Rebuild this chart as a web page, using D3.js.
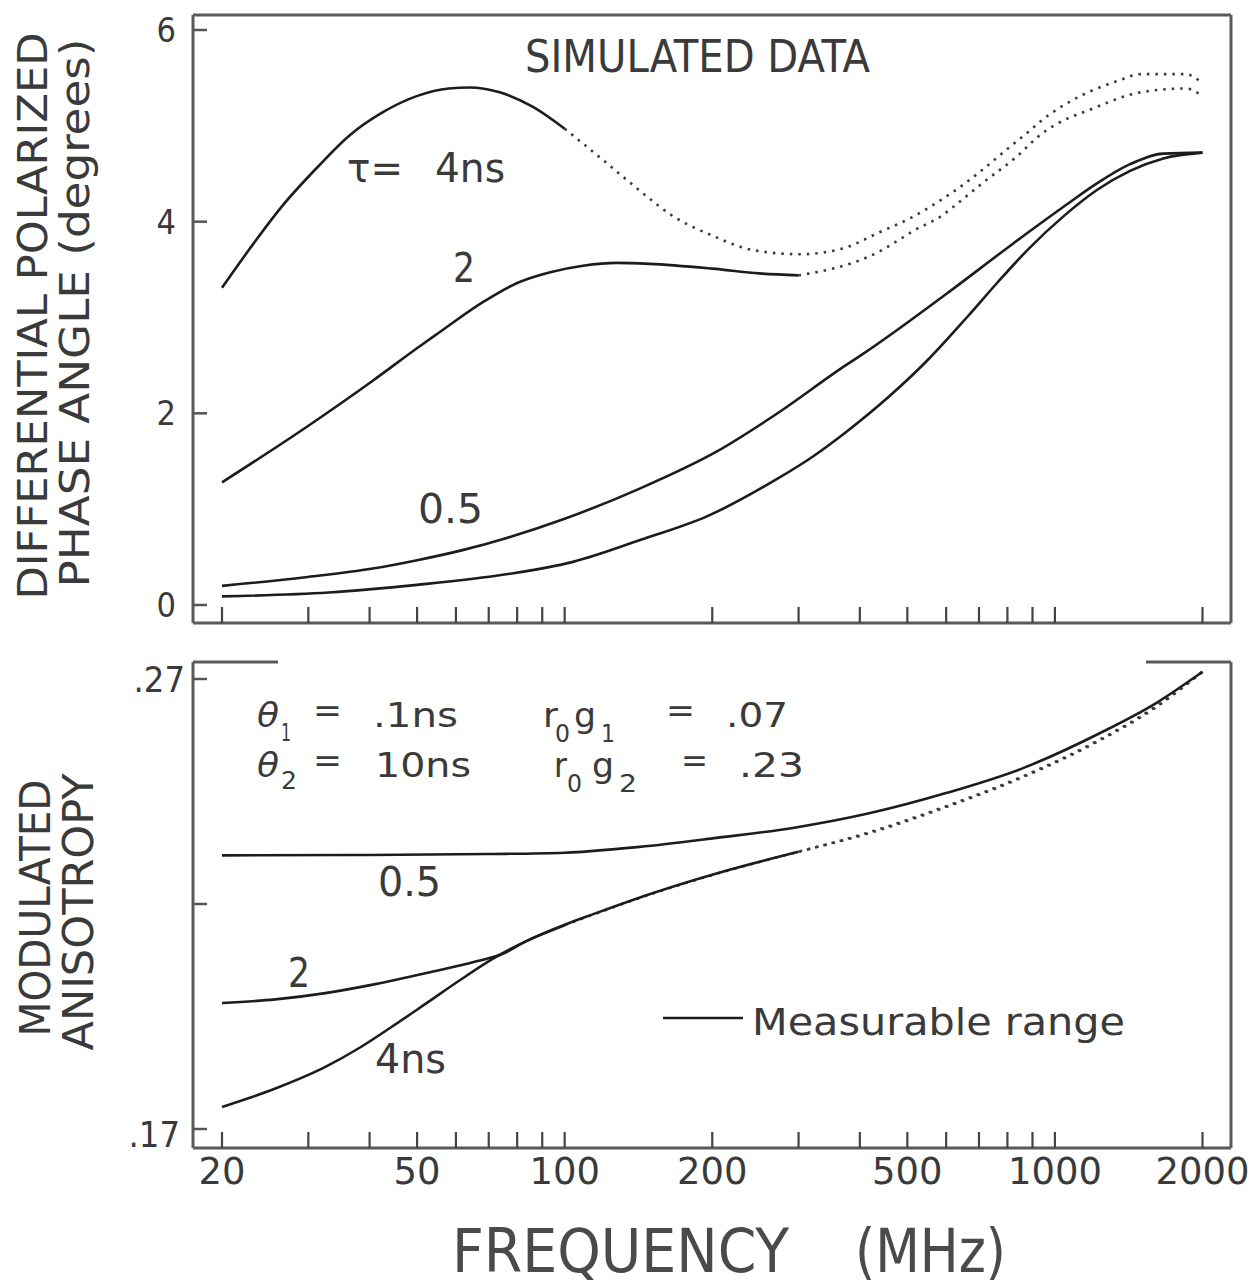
<!DOCTYPE html>
<html><head><meta charset="utf-8">
<script src="https://cdn.jsdelivr.net/npm/d3@7"></script>
<style>
body{margin:0;background:#fff}
text{font-family:"DejaVu Sans Condensed","DejaVu Sans",sans-serif;font-stretch:condensed;fill:#3a3a3a}
</style>
</head><body>
<svg id="c" width="1260" height="1286"></svg>
<script>
// ---------------- DATA ----------------
const freqTicks = [20,30,40,50,60,70,80,90,100,200,300,400,500,600,700,800,900,1000,2000];
const freqLabels = [20,50,100,200,500,1000,2000];
const phaseTicks = [0,2,4,6];
const phaseTickLabels = ["0","2","4","6"];
const anisoTicks = [0.17,0.22,0.27];
const anisoTickLabels = [".17","",".27"];

// Top panel: differential polarized phase angle (degrees) vs frequency (MHz)
const phaseTau4 = [[20,3.31],[22.8,3.72],[26.5,4.16],[31.2,4.56],[36.4,4.90],[42.5,5.14],[49.9,5.31],[58,5.39],[64,5.40],[73.7,5.35],[86,5.20],[100,4.97],[118,4.67],[138,4.38],[149,4.24],[166,4.06],[197,3.87],[244,3.70],[302,3.66],[369,3.72],[439,3.89],[513,4.05],[591,4.24],[640,4.36],[703,4.52],[809,4.78],[889,4.95],[931,5.04],[1088,5.27],[1345,5.47],[1498,5.54],[1849,5.54],[2000,5.44]];
const phaseTau2 = [[20,1.28],[29.6,1.85],[40.6,2.34],[50.3,2.69],[55,2.83],[68.6,3.17],[80,3.36],[93,3.47],[109,3.54],[128,3.57],[149,3.56],[200,3.51],[250,3.46],[300,3.44],[352,3.51],[387,3.57],[439,3.69],[467,3.77],[513,3.90],[591,4.07],[619,4.15],[703,4.38],[736,4.46],[809,4.62],[849,4.71],[889,4.81],[931,4.90],[1207,5.19],[1498,5.35],[1850,5.39],[2000,5.31]];
const phaseTau05 = [[20,0.20],[29.6,0.29],[40.6,0.38],[50.3,0.47],[61.6,0.57],[76.2,0.70],[100,0.90],[143,1.22],[204,1.60],[268,1.98],[374,2.50],[406,2.62],[602,3.25],[821,3.77],[1038,4.15],[1218,4.40],[1423,4.60],[1664,4.71],[2000,4.72]];
const phaseLowest = [[20,0.09],[33,0.13],[50,0.21],[76,0.32],[104,0.45],[143,0.68],[196,0.93],[268,1.30],[321,1.55],[374,1.80],[460,2.18],[556,2.58],[661,3.00],[762,3.36],[889,3.73],[1038,4.05],[1218,4.33],[1423,4.53],[1664,4.66],[2000,4.72]];

// Bottom panel: modulated anisotropy vs frequency (MHz)
const anisoTau05 = [[20,0.2308],[40,0.2309],[70,0.2311],[100,0.2314],[142,0.2327],[204,0.2347],[292,0.2369],[420,0.2402],[602,0.2447],[861,0.2502],[1237,0.2580],[1612,0.2647],[2000,0.2716]];
const anisoTau2 = [[20,0.1980],[25.7,0.1988],[32.5,0.2002],[41.1,0.2022],[52,0.2046],[65.8,0.2072],[75,0.2090],[83.3,0.2117],[100,0.2154],[114,0.2177],[150,0.2223],[204,0.2268],[300,0.2316],[420,0.2360],[602,0.2418],[861,0.2484],[1237,0.2566],[1612,0.2640],[2000,0.2716]];
const anisoTau4 = [[20,0.1749],[25.7,0.1790],[32.5,0.1838],[38.1,0.1880],[44.1,0.1925],[52,0.1978],[61,0.2030],[71.3,0.2078],[83.3,0.2117],[100,0.2153],[114,0.2176],[150,0.2222],[204,0.2267],[292,0.2313],[420,0.2358],[602,0.2416],[861,0.2482],[1237,0.2564],[1612,0.2638],[2000,0.2716]];

// measurable range upper limits (MHz): solid up to limit, dotted beyond
const topSeries = [
  {data: phaseTau4, limit: 100},
  {data: phaseTau2, limit: 300},
  {data: phaseTau05, limit: 2000},
  {data: phaseLowest, limit: 2000}
];
const bottomSeries = [
  {data: anisoTau4, limit: 100},
  {data: anisoTau2, limit: 300},
  {data: anisoTau05, limit: 2000}
];

// ---------------- LAYOUT ----------------
const svg = d3.select("#c");
const L = 193, R = 1231;
const x = d3.scaleLog().domain([20,2000]).range([222,1202.5]);
const yTop = d3.scaleLinear().domain([0,6]).range([605,30]);
const yBot = d3.scaleLinear().domain([0.17,0.27]).range([1129,679]);
const topP = {t:15, b:623}, botP = {t:662, b:1148};
const frameColor = "#5a5a5a";

function seg(x1,y1,x2,y2,w,c){
  svg.append("line").attr("x1",x1).attr("y1",y1).attr("x2",x2).attr("y2",y2)
    .attr("stroke",c||frameColor).attr("stroke-width",w||3);
}
// frames
seg(L,topP.t,R,topP.t); seg(L,topP.t,L,topP.b); seg(R,topP.t,R,topP.b); seg(L,topP.b,R,topP.b);
seg(L,botP.t,L,botP.b); seg(R,botP.t,R,botP.b); seg(L,botP.b,R,botP.b);
seg(L,botP.t,278,botP.t); seg(1146,botP.t,R,botP.t);

// x ticks (inner) on both panels
[topP.b, botP.b].forEach(yb=>{
  svg.append("g").selectAll("line").data(freqTicks).join("line")
    .attr("x1",d=>x(d)).attr("x2",d=>x(d)).attr("y1",yb).attr("y2",yb-16)
    .attr("stroke","#444").attr("stroke-width",2.2);
});
// y ticks
svg.append("g").selectAll("line").data(phaseTicks).join("line")
  .attr("x1",L).attr("x2",L+14).attr("y1",d=>yTop(d)).attr("y2",d=>yTop(d))
  .attr("stroke","#555").attr("stroke-width",2.5);
svg.append("g").selectAll("line").data(anisoTicks).join("line")
  .attr("x1",L).attr("x2",L+14).attr("y1",d=>yBot(d)).attr("y2",d=>yBot(d))
  .attr("stroke","#555").attr("stroke-width",2.5);

// tick labels
svg.append("g").selectAll("text").data(phaseTicks).join("text")
  .attr("x",176).attr("y",d=>yTop(d)+12).attr("text-anchor","end")
  .attr("font-size",34).text((d,i)=>phaseTickLabels[i]);
svg.append("g").selectAll("text").data(anisoTicks).join("text")
  .attr("x",(d,i)=>i===0?180:185).attr("y",(d,i)=>yBot(d)+(i===0?18:13)).attr("text-anchor","end")
  .attr("font-size",36).text((d,i)=>anisoTickLabels[i]);
svg.append("g").selectAll("text").data(freqLabels).join("text")
  .attr("x",d=>x(d)).attr("y",1184).attr("text-anchor","middle")
  .attr("font-size",37)
  .attr("textLength",d=>String(d).length*23.5).attr("lengthAdjust","spacingAndGlyphs")
  .text(d=>d);

// curves
const line = (ys)=>d3.line().x(d=>x(d[0])).y(d=>ys(d[1])).curve(d3.curveMonotoneX);
function drawSeries(list, ys){
  list.forEach(s=>{
    const solid = s.data.filter(d=>d[0]<=s.limit);
    const dotted = s.data.filter(d=>d[0]>=s.limit);
    svg.append("path").attr("d",line(ys)(solid)).attr("fill","none")
      .attr("stroke","#1c1c1c").attr("stroke-width",2.6);
    if(dotted.length>1){
      svg.append("path").attr("d",line(ys)(dotted)).attr("fill","none")
        .attr("stroke","#3a3a3a").attr("stroke-width",2.6).attr("stroke-dasharray","2.5,6");
    }
  });
}
drawSeries(topSeries, yTop);
drawSeries(bottomSeries, yBot);

// ---------------- TEXT ----------------
function txt(s,xx,yy,fs,len,opts){
  const t = svg.append("text").attr("x",xx).attr("y",yy).attr("font-size",fs).text(s);
  if(len) t.attr("textLength",len).attr("lengthAdjust","spacingAndGlyphs");
  if(opts&&opts.italic) t.attr("font-style","italic");
  return t;
}
function vtxt(s,bx,cy,fs,len){
  svg.append("text").attr("transform",`translate(${bx},${cy}) rotate(-90)`)
    .attr("text-anchor","middle").attr("font-size",fs)
    .attr("textLength",len).attr("lengthAdjust","spacingAndGlyphs").text(s);
}
// top panel annotations
txt("SIMULATED DATA",525,72,44,345);
txt("τ=",347,182,40,56);
txt("4ns",435,182,40,70);
txt("2",453,282,40,22);
txt("0.5",418,523,40,65);

// bottom panel annotations
txt("θ",257,727,34,22,{italic:true}); txt("1",281,741,24,10);
txt("=",313,722,34,29); txt(".1ns",373,727,34,85);
txt("r",543,727,34,15); txt("0",555,742,24,15);
txt("g",574,727,34,22); txt("1",601,742,24,14);
txt("=",666,722,34,29); txt(".07",726,727,34,62);

txt("θ",257,777,34,22,{italic:true}); txt("2",281,789,24,16);
txt("=",313,772,34,29); txt("10ns",375,777,34,96);
txt("r",554,777,34,13); txt("0",567,792,24,15);
txt("g",592,777,34,22); txt("2",619,792,24,18);
txt("=",681,772,34,27); txt(".23",739,777,34,65);

txt("0.5",378,896,40,63);
txt("2",288,987,40,22);
txt("4ns",375,1073,40,71);

// legend
seg(663,1018,743,1018,2.6,"#1c1c1c");
txt("Measurable range",752,1035,38,373);

// axis titles
txt("FREQUENCY",452,1272,60,337).attr("font-weight",300).style("fill","#4a4a4a");
txt("(MHz)",855,1272,60,151).attr("font-weight",300).style("fill","#4a4a4a");
vtxt("DIFFERENTIAL POLARIZED",47,316,40,567);
vtxt("PHASE ANGLE (degrees)",89,313,40,549);
vtxt("MODULATED",50,908,42,257);
vtxt("ANISOTROPY",93,912,42,277);
</script>
</body></html>
